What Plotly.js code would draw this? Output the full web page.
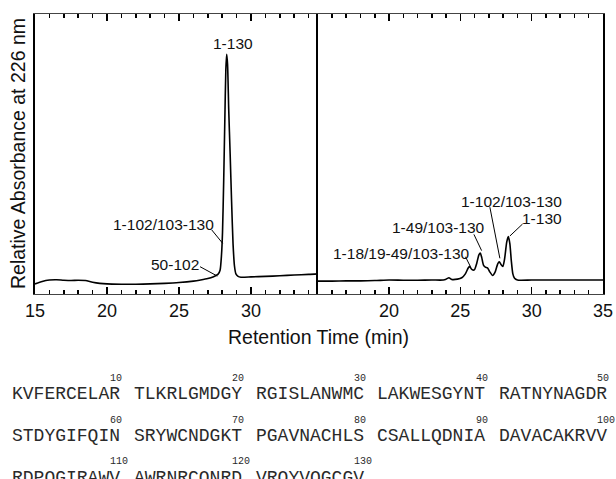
<!DOCTYPE html>
<html><head><meta charset="utf-8">
<script src="https://cdn.plot.ly/plotly-3.0.1.min.js"></script>
<style>html,body{margin:0;padding:0;background:#fff;overflow:hidden;} #chart{width:616px;height:479px;}</style>
</head><body><div id="chart"></div>
<script>
// ---- data ----
const timeA = [15.0,15.5,16.0,16.5,17.0,17.5,18.0,18.5,19.0,19.5,20.0,21.0,22.0,23.0,24.0,25.0,26.0,26.5,27.0,27.4,27.7,27.85,27.95,28.02,28.1,28.18,28.25,28.31,28.37,28.45,28.55,28.65,28.75,28.85,28.95,29.1,29.3,30.0,31.0,32.0,33.0,34.0,34.65];
const absA  = [3.6,4.5,5.0,5.1,4.9,4.8,4.9,4.8,4.2,3.8,3.6,3.5,3.5,3.6,3.8,4.1,4.6,5.0,5.5,6.2,7.0,8.5,14,22,40,62,80,85.6,82,66,50,33,18,10,7.2,6.3,6.0,6.1,6.3,6.5,6.8,7.0,7.2];
const timeB = [15.0,16.0,17.0,18.0,19.0,20.0,21.0,22.0,23.0,23.8,24.0,24.2,24.4,24.8,25.1,25.35,25.55,25.65,25.8,25.98,26.15,26.3,26.4,26.5,26.62,26.75,26.9,27.05,27.26,27.45,27.62,27.73,27.85,27.98,28.1,28.25,28.36,28.47,28.57,28.68,28.8,29.0,30.0,32.0,34.0,35.0];
const absB  = [4.6,4.6,4.7,4.7,4.8,5.0,4.9,4.9,5.0,5.0,5.3,5.8,5.2,5.3,5.8,7.2,9.3,9.9,8.8,8.6,11,14,14.6,13,10.3,9.6,9.3,8,6.6,8,10.8,11.5,10.5,9.8,12.5,18.5,20.5,18,12,7.2,5.6,5.0,5.0,5.0,5.0,5.0];
const peakLabelsA = ["1-130","1-102/103-130","50-102"];
const peakLabelsB = ["1-18/19-49/103-130","1-49/103-130","1-102/103-130","1-130"];
const xRangeA = [15,34.65];
const xRangeB = [15.02,35];   // 15 itself left unlabelled, as in the reference
const majorStep = 5, minorStep = 1;
const xTitle = "Retention Time (min)";
const yTitle = "Relative Absorbance at 226 nm";
const sequenceBlocks = ["KVFERCELAR","TLKRLGMDGY","RGISLANWMC","LAKWESGYNT","RATNYNAGDR",
                        "STDYGIFQIN","SRYWCNDGKT","PGAVNACHLS","CSALLQDNIA","DAVACAKRVV",
                        "RDPQGIRAWV","AWRNRCQNRD","VRQYVQGCGV"];
const residueNumbers = [10,20,30,40,50,60,70,80,90,100,110,120,130];

// ---- layout geometry ----
const W=616,H=479,M={l:35,r:13,t:14,b:185};
const pw=W-M.l-M.r, ph=H-M.t-M.b;
const splitPx=318;
const dA=[0,(splitPx-M.l)/pw], dB=[(splitPx-M.l)/pw,1];
const pX=px=>(px-M.l)/pw, pY=py=>(H-M.b-py)/ph;

// label geometry: [text pos x,y, leader line x0,y0,x1,y1] in data coords (null = no leader)
const labGeoA = [[28.75,89.6,null],[23.95,25,[27.27,22.9,28.03,18.1]],[24.72,10.6,[26.46,9.75,27.66,6.4]]];
const labGeoB = [[20.87,14.5,[25.36,13.3,25.71,9.75]],[23.5,23.7,[25.95,21.3,26.49,15.5]],[28.59,33,[27.07,31,27.77,12.75]],[30.75,27,[29.36,25,28.47,20.7]]];

const lineStyle={color:'black',width:1.6,shape:'spline',smoothing:0.6};
const traces=[
 {x:timeA,y:absA,xaxis:'x',yaxis:'y',mode:'lines',line:lineStyle,hoverinfo:'skip',showlegend:false},
 {x:timeB,y:absB,xaxis:'x2',yaxis:'y2',mode:'lines',line:lineStyle,hoverinfo:'skip',showlegend:false}
];
const sans='Liberation Sans, Arial, Helvetica, sans-serif';
const mono='Liberation Mono, Courier New, monospace';
function xax(domain,range,anchor){
 return {domain:domain,range:range,anchor:anchor,tick0:15,dtick:majorStep,
  ticks:'inside',ticklen:7,tickwidth:1.5,tickcolor:'black',showline:true,mirror:'ticks',
  showgrid:false,zeroline:false,tickfont:{family:sans,size:18,color:'#111'},
  minor:{dtick:minorStep,ticks:'inside',ticklen:4,tickcolor:'black'}};
}
function yax(anchor,mir){
 return {domain:[0,1],range:[0,100],anchor:anchor,showticklabels:false,showline:true,linecolor:'black',linewidth:1.6,mirror:mir,showgrid:false,zeroline:false};
}
const annotations=[], shapes=[];
function addLabels(labels,geo,xr,yr){
 labels.forEach((t,i)=>{
  const g=geo[i];
  annotations.push({xref:xr,yref:yr,x:g[0],y:g[1],text:t,showarrow:false,xanchor:'center',yanchor:'middle',font:{family:sans,size:15.5,color:'#111'},borderpad:0});
  if(g[2]) shapes.push({type:'line',xref:xr,yref:yr,x0:g[2][0],y0:g[2][1],x1:g[2][2],y1:g[2][3],line:{color:'black',width:1}});
 });
}
addLabels(peakLabelsA,labGeoA,'x','y');
addLabels(peakLabelsB,labGeoB,'x2','y2');
annotations.push({xref:'paper',yref:'paper',x:pX(318),y:pY(337),text:xTitle,showarrow:false,xanchor:'center',yanchor:'middle',font:{family:sans,size:19.5,color:'#111'}});
annotations.push({xref:'paper',yref:'paper',x:pX(18),y:0.5,text:yTitle,textangle:-90,showarrow:false,xanchor:'center',yanchor:'middle',font:{family:sans,size:19.5,color:'#111'}});

// sequence block: each 10-residue block placed on an 11-character grid
const seqLeft=12, charW=11.07, seqFont=18, blocksPerLine=5, supOffset=98.4;
const lineY=[394,436,478], supY=[378,420,461];
sequenceBlocks.forEach((b,idx)=>{
 const li=Math.floor(idx/blocksPerLine), k=idx%blocksPerLine;
 const x0=seqLeft+11*k*charW;
 annotations.push({xref:'paper',yref:'paper',x:pX(x0),y:pY(lineY[li]),xanchor:'left',yanchor:'middle',text:b,showarrow:false,borderpad:0,borderwidth:0,font:{family:mono,size:seqFont,color:'#2a2a2a'}});
 annotations.push({xref:'paper',yref:'paper',x:pX(x0+supOffset),y:pY(supY[li]),xanchor:'left',yanchor:'middle',text:String(residueNumbers[idx]),showarrow:false,borderpad:0,borderwidth:0,font:{family:mono,size:10,color:'#2a2a2a'}});
});

const layout={width:W,height:H,margin:M,paper_bgcolor:'white',plot_bgcolor:'white',showlegend:false,
 xaxis:xax(dA,xRangeA,'y'),xaxis2:xax(dB,xRangeB,'y2'),yaxis:yax('x',false),yaxis2:yax('x2',true),
 annotations:annotations,shapes:shapes};
Plotly.newPlot('chart',traces,layout,{staticPlot:true,displayModeBar:false});
</script></body></html>
